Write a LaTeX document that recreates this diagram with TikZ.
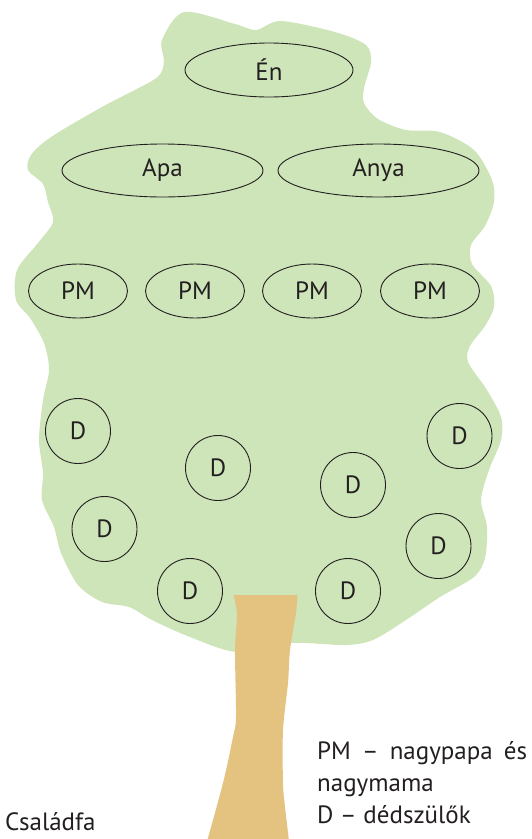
\documentclass[tikz,border=0pt]{standalone}
\usepackage{fontspec}
\setmainfont{PT Sans}
\usetikzlibrary{shapes.geometric,positioning}
\definecolor{leafcolor}{RGB}{206,229,185}
\definecolor{barkcolor}{RGB}{228,194,128}
\definecolor{inkcolor}{RGB}{35,31,32}
\tikzset{
  crownfill/.style={fill=leafcolor},
  trunkfill/.style={fill=barkcolor},
  person/.style={ellipse, draw=inkcolor, line width=0.9pt, inner sep=0pt, text=inkcolor},
  ancestor/.style={circle, draw=inkcolor, line width=0.9pt, minimum size=65pt, inner sep=0pt, text=inkcolor},
  legendtxt/.style={text=inkcolor, inner sep=0pt, anchor=base west},
}

\begin{document}
\begin{tikzpicture}[x=1pt, y=-1pt, font=\fontsize{25}{32}\selectfont]
    \useasboundingbox (0,0) rectangle (531,839);
    \clip (0,0) rectangle (531,839);
    % Crown of the tree
    \fill[crownfill] plot[smooth cycle] coordinates {
      (184,12) (235,24) (256,30) (281,21) (335,32) (366,45) (371,62) (364,88)
      (364,103) (378,119) (406,130) (440,132) (474,150) (492,180) (494,202)
      (485,226) (471,245) (472,264) (491,286) (494,307) (485,326) (470,346)
      (468,362) (487,390) (501,417) (501,440) (489,470) (481,500) (487,527)
      (485,558) (474,577) (440,597) (406,620) (373,640) (345,645) (291,643)
      (237,652) (190,637) (152,620) (129,607) (102,602) (78,585) (61,553)
      (54,527) (42,500) (43,473) (39,440) (43,400) (49,370) (44,343) (30,318)
      (16,300) (17,270) (38,243) (53,222) (48,202) (43,184) (28,170) (31,155)
      (51,137) (102,107) (150,82) (161,73) (164,60) (162,40)};
    % Trunk
    \fill[trunkfill] (233.5,595) -- plot[smooth] coordinates {(297.5,595) (296,613)
      (290,650) (288,683) (283,730) (283,783) (285,807) (289.5,845)}
      -- plot[smooth] coordinates {(206,845) (223,783) (233,737) (236,717)
      (235,650) (237,615) (233.5,595)} -- cycle;
    % Me and parents
    \node[person, minimum width=168pt, minimum height=54pt] (en) at (269,70) {Én};
    \node[person, minimum width=201pt, minimum height=53pt] (apa) at (162.5,170.5) {Apa};
    \node[person, minimum width=201pt, minimum height=53pt] (anya) at (378.5,170.5) {Anya};
    % Grandparents
    \node[person, minimum width=99pt, minimum height=54pt] (pm1) at (78,291) {PM};
    \node[person, minimum width=99pt, minimum height=54pt] (pm2) at (195,291) {PM};
    \node[person, minimum width=99pt, minimum height=54pt] (pm3) at (312,291) {PM};
    \node[person, minimum width=99pt, minimum height=54pt] (pm4) at (430,291) {PM};
    % Great-grandparents
    \node[ancestor] (d1) at (78,431) {D};
    \node[ancestor] (d2) at (218,468) {D};
    \node[ancestor] (d3) at (353,485) {D};
    \node[ancestor] (d4) at (459.5,436) {D};
    \node[ancestor] (d5) at (104.5,529) {D};
    \node[ancestor] (d6) at (438.5,546) {D};
    \node[ancestor] (d7) at (190,591) {D};
    \node[ancestor] (d8) at (348,591) {D};
    % Legend and title
    \node[legendtxt] (leg1) at (317,759) {\makebox[210pt][s]{PM – nagypapa és}};
    \node[legendtxt] (leg2) at (317,791) {nagymama};
    \node[legendtxt] (leg3) at (317,823) {D – dédszülők};
    \node[legendtxt] (title) at (5,830) {Családfa};
\end{tikzpicture}
\end{document}
